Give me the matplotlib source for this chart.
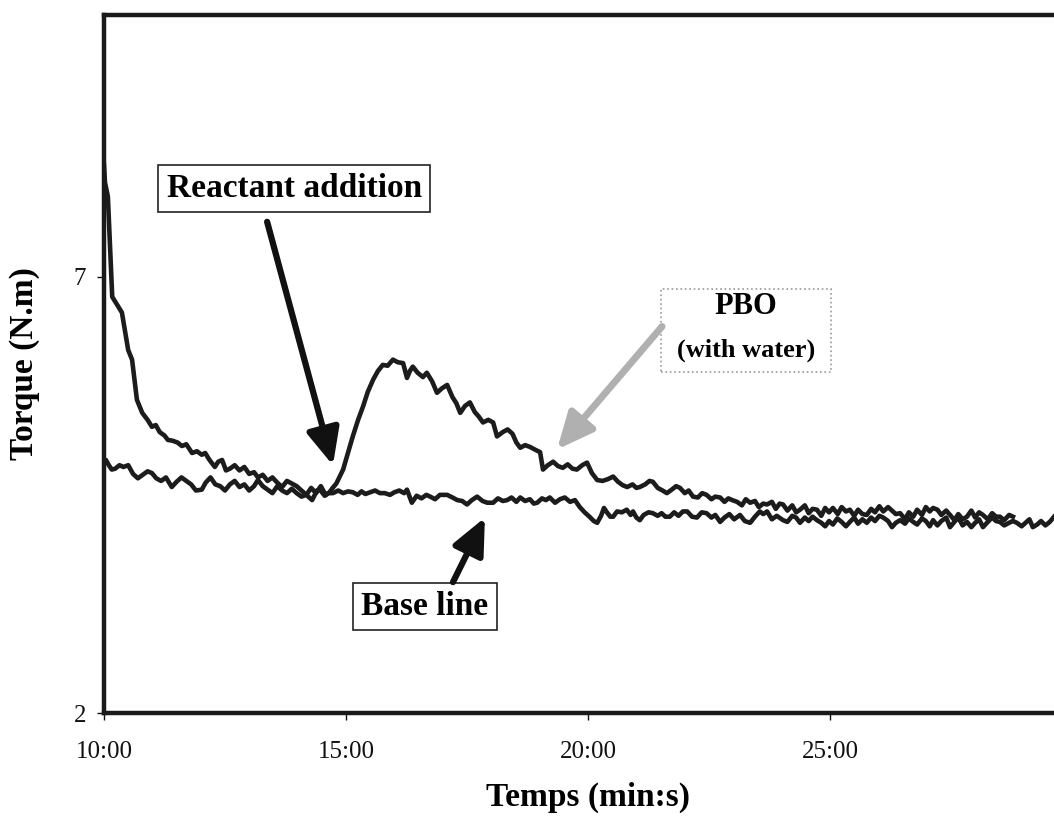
import matplotlib
matplotlib.use("Agg")
import matplotlib.pyplot as plt
from matplotlib.patches import Rectangle

# torque record, time in minutes, torque in N.m
pbo_time = [10.00, 10.02, 10.08, 10.17, 10.37, 10.50, 10.58, 10.68,
            10.79, 10.90, 10.99, 11.07, 11.15, 11.25, 11.32, 11.42, 11.52, 11.61,
            11.70, 11.82, 11.92, 12.02, 12.09, 12.18, 12.29, 12.36, 12.44, 12.52,
            12.60, 12.70, 12.80, 12.90, 13.00, 13.10, 13.18, 13.28, 13.38, 13.48,
            13.58, 13.68, 13.78, 13.88, 13.98, 14.08, 14.18, 14.28, 14.38, 14.48,
            14.58, 14.66, 14.71,
            14.80, 14.94, 15.04, 15.14, 15.25, 15.35, 15.45, 15.56, 15.66, 15.76,
            15.86, 15.97, 16.07, 16.18, 16.26, 16.32, 16.38, 16.48, 16.59, 16.67,
            16.78, 16.88, 16.98, 17.09, 17.20, 17.28, 17.36, 17.46, 17.56, 17.66,
            17.74, 17.83, 17.94, 18.04, 18.12, 18.24, 18.34, 18.44, 18.52, 18.60,
            18.70, 18.80, 18.90, 19.01, 19.07, 19.17, 19.28, 19.38, 19.48, 19.58,
            19.68, 19.77, 19.88, 19.98, 20.08, 20.19, 20.30, 20.41, 20.52, 20.62,
            20.72, 20.81, 20.92, 21.00, 21.07, 21.18, 21.27, 21.34, 21.44, 21.54,
            21.63, 21.73, 21.82, 21.90, 22.00, 22.08, 22.17, 22.27, 22.36, 22.45,
            22.55, 22.63, 22.73, 22.82, 22.90, 22.98, 23.08, 23.18, 23.26, 23.35,
            23.45, 23.53, 23.62, 23.70, 23.80, 23.88, 23.96, 24.03, 24.12, 24.22,
            24.30, 24.38, 24.48, 24.56, 24.64, 24.73, 24.82, 24.90, 24.98, 25.06,
            25.16, 25.24, 25.33, 25.41, 25.50, 25.58, 25.67, 25.76, 25.85, 25.93,
            26.02, 26.10, 26.20, 26.28, 26.36, 26.45, 26.55, 26.63, 26.72, 26.80,
            26.90, 26.98, 27.06, 27.13, 27.22, 27.30, 27.40, 27.48, 27.57, 27.65,
            27.74, 27.83, 27.92, 28.00, 28.08, 28.16, 28.26, 28.35, 28.43, 28.51,
            28.60, 28.70, 28.78]
pbo_torque = [8.28, 8.08, 7.92, 6.77, 6.59, 6.16, 6.05, 5.59,
              5.44, 5.36, 5.28, 5.30, 5.22, 5.18, 5.13, 5.12, 5.10, 5.06,
              5.08, 4.98, 5.00, 4.96, 4.98, 4.90, 4.82, 4.88, 4.90, 4.78,
              4.80, 4.84, 4.78, 4.82, 4.74, 4.76, 4.70, 4.73, 4.66, 4.70,
              4.64, 4.59, 4.66, 4.63, 4.60, 4.55, 4.50, 4.58, 4.52, 4.60,
              4.50, 4.53, 4.57,
              4.63, 4.79, 4.98, 5.17, 5.36, 5.51, 5.68, 5.82, 5.92, 5.99,
              5.98, 6.05, 6.02, 6.01, 5.84, 5.92, 5.97, 5.90, 5.85, 5.90,
              5.80, 5.67, 5.72, 5.76, 5.62, 5.55, 5.44, 5.52, 5.56, 5.45,
              5.40, 5.33, 5.36, 5.33, 5.17, 5.22, 5.25, 5.20, 5.10, 5.04,
              5.07, 5.05, 5.02, 4.99, 4.79, 4.84, 4.88, 4.83, 4.81, 4.85,
              4.80, 4.79, 4.84, 4.87, 4.75, 4.67, 4.66, 4.68, 4.71, 4.65,
              4.61, 4.59, 4.62, 4.58, 4.59, 4.62, 4.66, 4.65, 4.58, 4.55,
              4.52, 4.56, 4.60, 4.58, 4.52, 4.55, 4.48, 4.47, 4.52, 4.50,
              4.45, 4.48, 4.47, 4.42, 4.46, 4.44, 4.42, 4.38, 4.45, 4.41,
              4.43, 4.36, 4.40, 4.39, 4.42, 4.34, 4.40, 4.39, 4.32, 4.38,
              4.30, 4.33, 4.38, 4.29, 4.34, 4.33, 4.26, 4.35, 4.30, 4.35,
              4.28, 4.36, 4.31, 4.33, 4.26, 4.33, 4.28, 4.27, 4.34, 4.30,
              4.37, 4.31, 4.36, 4.32, 4.28, 4.29, 4.22, 4.30, 4.25, 4.33,
              4.27, 4.36, 4.31, 4.35, 4.33, 4.27, 4.32, 4.27, 4.21, 4.28,
              4.22, 4.25, 4.32, 4.24, 4.30, 4.27, 4.22, 4.29, 4.25, 4.25,
              4.21, 4.27, 4.25]

base_time = [10.00, 10.04, 10.10, 10.16, 10.23, 10.32, 10.40, 10.50, 10.60, 10.70,
             10.80, 10.90, 10.99, 11.08, 11.18, 11.28, 11.40, 11.50, 11.60, 11.70,
             11.80, 11.90, 12.02, 12.10, 12.20, 12.30, 12.40, 12.50, 12.60, 12.70,
             12.80, 12.90, 13.00, 13.10, 13.18, 13.28, 13.38, 13.48, 13.58, 13.68,
             13.78, 13.88, 13.98, 14.08, 14.18, 14.30, 14.40, 14.46, 14.56, 14.64,
             14.73, 14.84, 14.94, 15.04, 15.14, 15.24, 15.32, 15.40, 15.50, 15.60,
             15.70, 15.80, 15.91, 16.00, 16.10, 16.20, 16.26, 16.36, 16.46, 16.56,
             16.66, 16.74, 16.84, 16.94, 17.09, 17.20, 17.30, 17.40, 17.50, 17.60,
             17.71, 17.82, 17.92, 18.04, 18.14, 18.24, 18.33, 18.42, 18.52, 18.60,
             18.70, 18.80, 18.88, 18.95, 19.05, 19.13, 19.21, 19.32, 19.42, 19.52,
             19.63, 19.73, 19.83, 19.93, 20.03, 20.12, 20.19, 20.27, 20.33, 20.39,
             20.46, 20.52, 20.60, 20.70, 20.80, 20.88, 20.93, 21.00, 21.07, 21.15,
             21.25, 21.34, 21.44, 21.52, 21.60, 21.69, 21.78, 21.87, 21.96, 22.05,
             22.15, 22.25, 22.35, 22.45, 22.55, 22.63, 22.73, 22.82, 22.92, 23.02,
             23.14, 23.24, 23.35, 23.45, 23.55, 23.62, 23.70, 23.80, 23.90, 24.03,
             24.12, 24.22, 24.30, 24.38, 24.48, 24.56, 24.64, 24.73, 24.82, 24.90,
             24.98, 25.06, 25.15, 25.24, 25.33, 25.41, 25.50, 25.58, 25.67, 25.76,
             25.85, 25.93, 26.02, 26.10, 26.20, 26.28, 26.36, 26.45, 26.55, 26.63,
             26.72, 26.80, 26.90, 26.98, 27.06, 27.13, 27.22, 27.30, 27.40, 27.48,
             27.57, 27.65, 27.74, 27.83, 27.92, 28.00, 28.08, 28.16, 28.26, 28.35,
             28.43, 28.51, 28.60, 28.70, 28.78, 28.86, 28.96, 29.04, 29.12, 29.19,
             29.28, 29.36, 29.45, 29.54, 29.63]
base_torque = [4.87, 4.90, 4.84, 4.79, 4.80, 4.84, 4.82, 4.84, 4.74, 4.69,
               4.73, 4.77, 4.75, 4.69, 4.66, 4.70, 4.59, 4.65, 4.70, 4.66,
               4.62, 4.55, 4.56, 4.64, 4.70, 4.62, 4.60, 4.55, 4.62, 4.66,
               4.59, 4.62, 4.55, 4.60, 4.67, 4.60, 4.56, 4.52, 4.60, 4.55,
               4.52, 4.57, 4.52, 4.48, 4.50, 4.44, 4.55, 4.56, 4.49, 4.52,
               4.52, 4.55, 4.52, 4.54, 4.53, 4.50, 4.54, 4.51, 4.53, 4.55,
               4.52, 4.52, 4.50, 4.53, 4.55, 4.52, 4.56, 4.41, 4.49, 4.46,
               4.50, 4.48, 4.45, 4.50, 4.50, 4.47, 4.44, 4.43, 4.39, 4.44,
               4.48, 4.43, 4.41, 4.41, 4.46, 4.43, 4.44, 4.47, 4.42, 4.47,
               4.43, 4.45, 4.40, 4.41, 4.46, 4.44, 4.47, 4.41, 4.45, 4.47,
               4.42, 4.44, 4.36, 4.30, 4.25, 4.20, 4.18, 4.26, 4.35, 4.30,
               4.25, 4.25, 4.31, 4.30, 4.33, 4.27, 4.31, 4.24, 4.21, 4.27,
               4.30, 4.29, 4.26, 4.29, 4.25, 4.25, 4.30, 4.26, 4.31, 4.31,
               4.25, 4.24, 4.30, 4.29, 4.24, 4.27, 4.19, 4.24, 4.28, 4.22,
               4.27, 4.20, 4.18, 4.25, 4.31, 4.28, 4.31, 4.22, 4.26, 4.21,
               4.19, 4.26, 4.24, 4.18, 4.24, 4.20, 4.25, 4.21, 4.18, 4.14,
               4.20, 4.16, 4.23, 4.19, 4.14, 4.19, 4.24, 4.17, 4.22, 4.18,
               4.24, 4.20, 4.26, 4.24, 4.20, 4.13, 4.18, 4.21, 4.17, 4.23,
               4.19, 4.16, 4.23, 4.20, 4.14, 4.21, 4.15, 4.20, 4.24, 4.13,
               4.19, 4.24, 4.15, 4.19, 4.13, 4.18, 4.22, 4.13, 4.19, 4.24,
               4.20, 4.19, 4.15, 4.18, 4.20, 4.18, 4.14, 4.18, 4.22, 4.13,
               4.16, 4.20, 4.15, 4.19, 4.25]

assert len(pbo_time) == len(pbo_torque), (len(pbo_time), len(pbo_torque))
assert len(base_time) == len(base_torque), (len(base_time), len(base_torque))

x_ticks = [10, 15, 20, 25]
x_ticklabels = ["10:00", "15:00", "20:00", "25:00"]
y_ticks = [2, 7]

plt.rcParams["font.family"] = ["Liberation Serif", "DejaVu Serif"]

fig = plt.figure(figsize=(10.54, 8.18), dpi=100)
ax = fig.add_axes([104 / 1054, 1 - 713 / 818, 968 / 1054, 698 / 818])

line_col = "#1c1c1c"
ax.plot(pbo_time, pbo_torque, color=line_col, lw=3.3)
ax.plot(base_time, base_torque, color=line_col, lw=3.3)

ax.set_xlim(10, 30)
ax.set_ylim(2, 10)
ax.set_xticks(x_ticks)
ax.set_xticklabels(x_ticklabels)
ax.set_yticks(y_ticks)
ax.tick_params(axis="both", direction="out", length=5, width=1, labelsize=18, colors="#111111")
ax.tick_params(axis="x", pad=15)
ax.tick_params(axis="y", pad=8)

for s in ["left", "top", "bottom", "right"]:
    ax.spines[s].set_linewidth(3.2)
    ax.spines[s].set_color("#1a1a1a")

ax.set_xlabel("Temps (min:s)", fontsize=24, fontweight="bold", labelpad=14)
ax.set_ylabel("Torque (N.m)", fontsize=24, fontweight="bold", labelpad=24)

# annotations
ax.text(13.93, 8.01, "Reactant addition", fontsize=24, fontweight="bold",
        ha="center", va="center",
        bbox=dict(boxstyle="square,pad=0.25", fc="white", ec="#222222", lw=1.2))
ax.annotate("", xy=(14.73, 4.84), xytext=(13.37, 7.63),
            arrowprops=dict(arrowstyle="-|>,head_length=1.1,head_width=0.5",
                            mutation_scale=20, lw=4.5, color="#111111",
                            shrinkA=0, shrinkB=0))

ax.text(16.63, 3.22, "Base line", fontsize=24, fontweight="bold",
        ha="center", va="center",
        bbox=dict(boxstyle="square,pad=0.25", fc="white", ec="#222222", lw=1.2))
ax.annotate("", xy=(17.87, 4.24), xytext=(17.21, 3.50),
            arrowprops=dict(arrowstyle="-|>,head_length=1.1,head_width=0.5",
                            mutation_scale=20, lw=4.5, color="#111111",
                            shrinkA=0, shrinkB=0))

ax.add_patch(Rectangle((21.51, 5.91), 3.51, 0.95, fc="white", ec="#9a9a9a",
                       lw=1.2, ls=":", zorder=3))
ax.text(23.27, 6.66, "PBO", fontsize=22, fontweight="bold", ha="center",
        va="center", zorder=4)
ax.text(23.27, 6.16, "(with water)", fontsize=19, fontweight="bold",
        ha="center", va="center", zorder=4)
ax.annotate("", xy=(19.36, 5.02), xytext=(21.53, 6.43),
            arrowprops=dict(arrowstyle="-|>,head_length=1.1,head_width=0.5",
                            mutation_scale=20, lw=5, color="#b0b0b0",
                            shrinkA=0, shrinkB=0))

fig.savefig("out.png", dpi=100)
